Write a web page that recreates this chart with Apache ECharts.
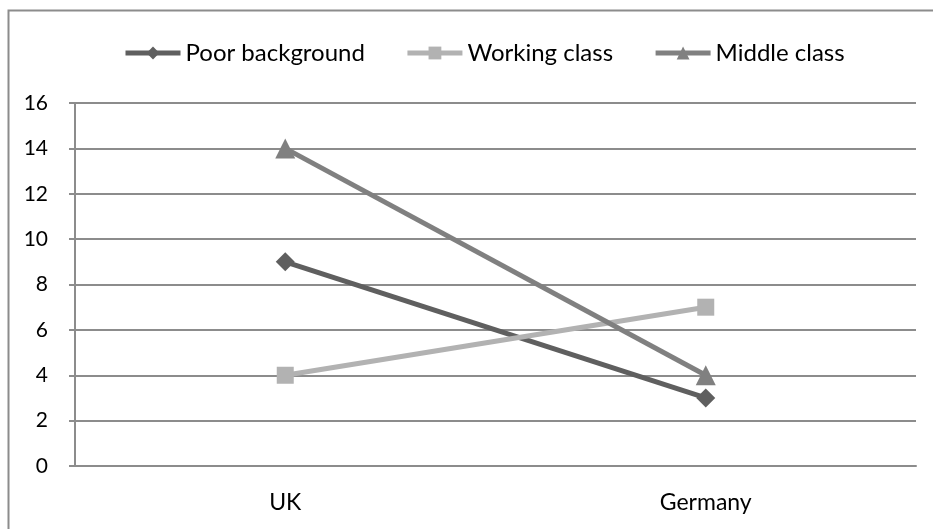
<!DOCTYPE html>
<html>
<head>
<meta charset="utf-8">
<script src="https://cdn.jsdelivr.net/npm/echarts@6/dist/echarts.min.js"></script>
<style>
  html, body { margin: 0; padding: 0; background: #fff; }
  #chart { width: 933px; height: 529px; }
</style>
</head>
<body>
<div id="chart"></div>
<script>
const categories = ["UK", "Germany"];
const poorBackground = [9, 3];
const workingClass = [4, 7];
const middleClass = [14, 4];
const yTicks = { min: 0, max: 16, interval: 2 };

const chart = echarts.init(document.getElementById("chart"));

function lineSeries(name, data, color, symbol, size) {
  return {
    name: name,
    type: "line",
    data: data,
    symbol: symbol,
    symbolSize: size,
    showAllSymbol: true,
    animation: false,
    itemStyle: { color: color },
    lineStyle: { color: color, width: 5 }
  };
}

chart.setOption({
  textStyle: { fontFamily: "Lato, 'Open Sans', sans-serif" },
  graphic: [
    {
      type: "rect",
      shape: { x: 8.5, y: 10.5, width: 2000, height: 2000 },
      style: { fill: "none", stroke: "#8c8c8c", lineWidth: 2 },
      silent: true
    }
  ],
  legend: {
    top: 36,
    left: 118,
    itemWidth: 55,
    itemHeight: 16,
    itemGap: 40,
    lineStyle: { width: 5 },
    textStyle: { fontSize: 24, color: "#000", fontFamily: "Lato, sans-serif" },
    data: ["Poor background", "Working class", "Middle class"]
  },
  grid: {
    left: 75,
    right: 17,
    top: 103,
    bottom: 63,
    containLabel: false
  },
  xAxis: {
    type: "category",
    data: categories,
    boundaryGap: true,
    axisLine: { lineStyle: { color: "#8c8c8c", width: 2 } },
    axisTick: { show: false },
    axisLabel: { fontSize: 23, color: "#000", margin: 25 }
  },
  yAxis: {
    type: "value",
    min: yTicks.min,
    max: yTicks.max,
    interval: yTicks.interval,
    axisLine: { show: true, lineStyle: { color: "#8c8c8c", width: 2 } },
    axisTick: { show: true, length: 6, lineStyle: { color: "#8c8c8c", width: 2 } },
    axisLabel: { fontSize: 21, color: "#000", margin: 27 },
    splitLine: { lineStyle: { color: "#8c8c8c", width: 2 } }
  },
  series: [
    lineSeries("Poor background", poorBackground, "#5f5f5f", "diamond", 19),
    lineSeries("Working class", workingClass, "#b2b2b2", "rect", 17),
    lineSeries("Middle class", middleClass, "#808080", "triangle", 20)
  ]
});
</script>
</body>
</html>
